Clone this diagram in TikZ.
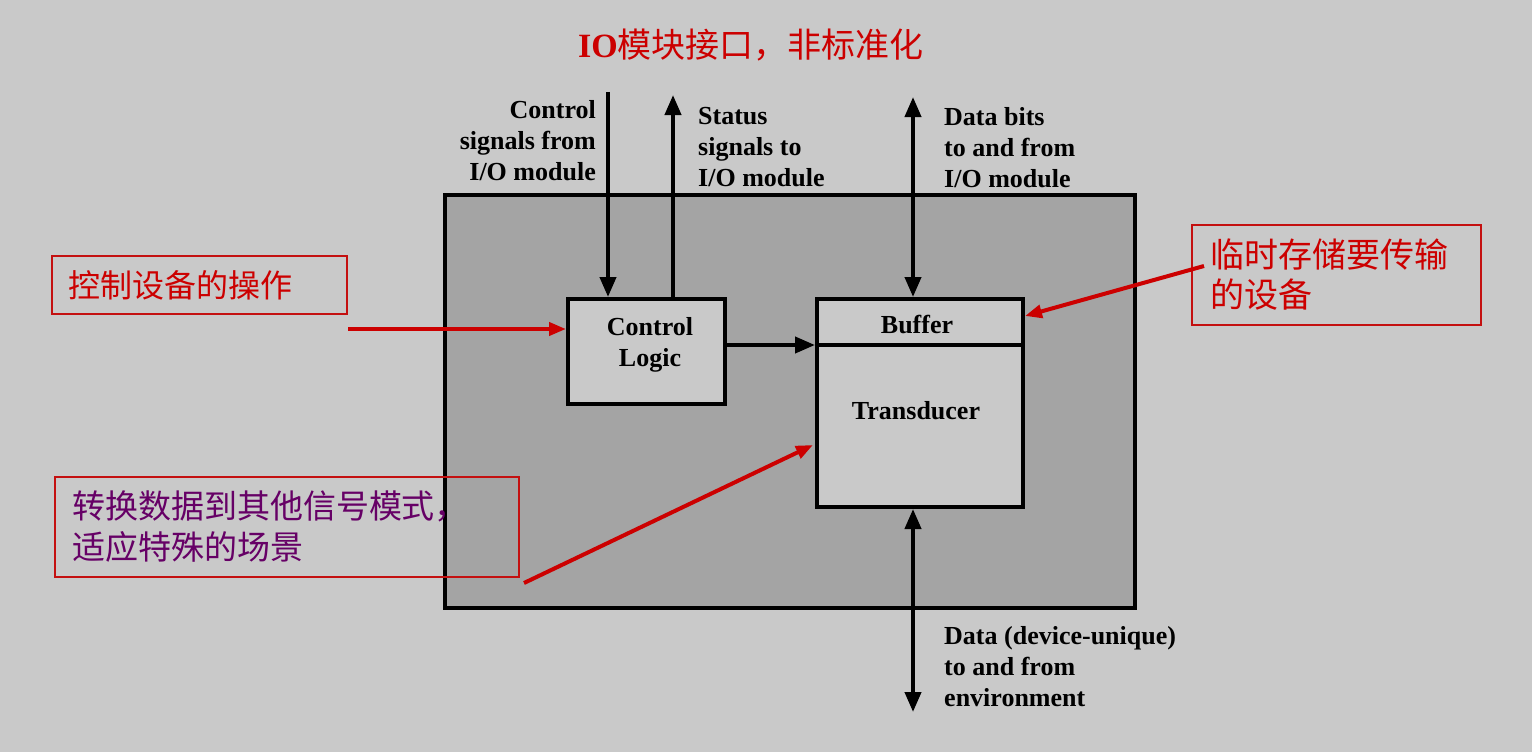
\documentclass[tikz,border=0pt]{standalone}
\usepackage{fontspec}
\setmainfont{Liberation Serif}
\newfontfamily\cjk{Noto Sans CJK SC}
\usetikzlibrary{arrows.meta,positioning,calc}
\definecolor{bgpage}{HTML}{C9C9C9}
\definecolor{bgmod}{HTML}{A4A4A4}
\definecolor{cred}{HTML}{CC0000}
\definecolor{cnote}{HTML}{C41010}
\definecolor{cpurp}{HTML}{660066}

\begin{document}
\begin{tikzpicture}[x=1pt,y=-1pt,
  blk/.style={draw,line width=4pt,fill=bgpage,inner sep=0pt},
  lbl/.style={font=\bfseries\fontsize{26}{31}\selectfont,inner sep=0pt},
  sig/.style={line width=4pt,-{Triangle[length=20pt,width=16pt]}},
  bisig/.style={line width=4pt,{Triangle[length=20pt,width=16pt]}-{Triangle[length=20pt,width=16pt]}},
  redsig/.style={draw=cred,line width=4pt,-{Triangle[length=17pt,width=13pt]}},
  note/.style={draw=cnote,line width=1.5pt,align=left,inner ysep=0pt,font=\cjk}]
  % page and module
  \fill[bgpage] (0,0) rectangle (1532,752);
  \node[blk,fill=bgmod,minimum width=690pt,minimum height=413pt] (iomod) at (790,401.5) {};
  \node[font=\fontsize{34}{40}\selectfont,text=cred,inner sep=0pt] (title) at (751,45)
    {\textbf{IO}{\cjk 模块接口，非标准化}};
  % notes
  \node[note,text=cred,inner xsep=16pt,text width=263pt,minimum height=58pt,font=\cjk\fontsize{32}{40}\selectfont] (notectl) at (199.5,285) {控制设备的操作};
  \node[note,text=cred,inner xsep=18pt,text width=253pt,minimum height=100pt,font=\cjk\fontsize{34}{40}\selectfont] (notebuf) at (1336.5,275) {\raisebox{-4pt}{临时存储要传输}\\\raisebox{-4pt}{的设备}};
  \node[note,text=cpurp,inner xsep=17pt,text width=430pt,minimum height=100pt,font=\cjk\fontsize{33}{41}\selectfont] (notexd) at (287,527) {转换数据到其他信号模式，\\适应特殊的场景};
  % blocks
  \node[blk,minimum width=157pt,minimum height=105pt] (ctrl) at (646.5,351.5) {};
  \node[lbl,align=center] (ctrltxt) at (650,345) {Control\\Logic};
  \node[blk,minimum width=206pt,minimum height=208pt] (xdcr) at (920,403) {};
  \coordinate (bufsep) at (0,345);
  \draw[line width=4pt] (xdcr.west |- bufsep) -- (xdcr.east |- bufsep);
  \node[lbl] (buf) at (917,325) {Buffer};
  \node[lbl] (xdcrtxt) at (916,411) {Transducer};
  % signal lines
  \coordinate (csin) at (608,92);
  \coordinate (stout) at (673,95);
  \coordinate (dbits) at (913,97);
  \coordinate (denv) at (913,712);
  \draw[sig] (csin) -- (csin |- ctrl.north);
  \draw[sig] (stout |- ctrl.north) -- (stout);
  \draw[bisig] (dbits) -- (dbits |- xdcr.north);
  \draw[bisig] (denv |- xdcr.south) -- (denv);
  \draw[sig] (ctrl.east |- bufsep) -- (xdcr.west |- bufsep);
  \node[lbl,align=right,anchor=north east] (cslbl) at (596,100) {Control\\signals from\\I/O module};
  \node[lbl,align=left,anchor=north west] (stlbl) at (698,107) {Status\\signals to\\I/O module};
  \node[lbl,align=left,anchor=north west] (dblbl) at (944,107) {Data bits\\to and from\\I/O module};
  \node[lbl,align=left,anchor=north west] (delbl) at (944,626) {Data (device-unique)\\to and from\\environment};
  % pointers from notes
  \coordinate (ctlp) at (348,329);
  \coordinate (bufp) at (1204,266);
  \coordinate (xdp) at (524,583);
  \draw[redsig] (ctlp) -- (ctlp -| ctrl.west);
  \draw[redsig] (bufp) -- ($(xdcr.north east)+(0,19)$);
  \draw[redsig] (xdp) -- ($(xdcr.west)+(-2,42)$);
\end{tikzpicture}
\end{document}
